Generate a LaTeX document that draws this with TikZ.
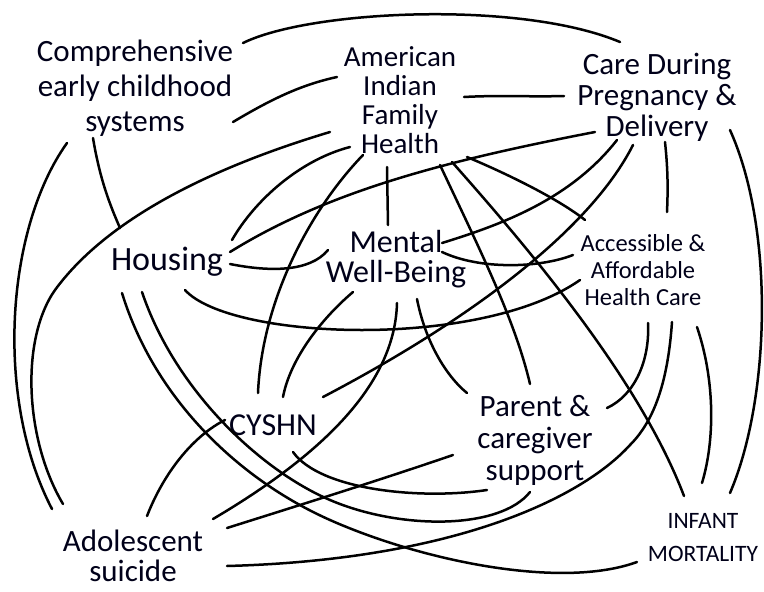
\documentclass[tikz,border=0pt]{standalone}
\usepackage{fontspec}
\setmainfont{Carlito}
\begin{document}
\begin{tikzpicture}[x=1pt,y=-1pt,
  link/.style={line width=2.5pt,line cap=round,black},
  lbl/.style={align=center,inner sep=0pt,text=black!90!blue},
]
\fill[white] (0,0) rectangle (764,592);
\useasboundingbox (0,0) rectangle (764,592);

% ---------- nodes ----------
\node[lbl,font=\fontsize{31}{35}\selectfont] (comp) at (135,88) {Comprehensive\\early childhood\\systems};
\node[lbl,font=\fontsize{29}{29}\selectfont] (aifh) at (400,100) {American\\Indian\\Family\\Health};
\node[lbl,font=\fontsize{31}{31}\selectfont] (care) at (657,97) {Care During\\Pregnancy \&\\Delivery};
\node[lbl,font=\fontsize{34}{34}\selectfont] (hous) at (167,262) {Housing};
\node[lbl,font=\fontsize{32}{30}\selectfont] (ment) at (396,259) {Mental\\Well-Being};
\node[lbl,font=\fontsize{24.5}{27}\selectfont] (acc) at (643,270) {Accessible \&\\Affordable\\Health Care};
\node[lbl,font=\fontsize{32}{32}\selectfont] (cysh) at (273,425) {CYSHN};
\node[lbl,font=\fontsize{31}{32}\selectfont] (par) at (535,440) {Parent \&\\caregiver\\support};
\node[lbl,font=\fontsize{31}{30}\selectfont] (adol) at (133,556) {Adolescent\\suicide};
\node[lbl,font=\fontsize{23.5}{33}\selectfont] (inf) at (703,538) {INFANT\\MORTALITY};

% ---------- connector end points ----------
\coordinate (compA) at (243,43);   \coordinate (careA) at (620,42);
\coordinate (compB) at (233,122);  \coordinate (aifhB) at (337,77);
\coordinate (compC) at (93,138);   \coordinate (housC) at (120,228);
\coordinate (compD) at (67,143);   \coordinate (adolD) at (52,509);
\coordinate (aifhE) at (330,132);  \coordinate (adolE) at (63,504);
\coordinate (aifhF) at (464,97);   \coordinate (careF) at (564,96);
\coordinate (aifhG) at (350,147);  \coordinate (housG) at (232,240);
\coordinate (housH) at (230,252);  \coordinate (careH) at (595,132);
\coordinate (housI) at (230,264);  \coordinate (mentI) at (328,250);
\coordinate (housJ) at (185,290);  \coordinate (accJ) at (580,280);
\coordinate (housK) at (142,292);  \coordinate (parK) at (530,492);
\coordinate (housL) at (122,293);  \coordinate (infL) at (637,562);
\coordinate (aifhM) at (387,167);  \coordinate (mentM) at (388,225);
\coordinate (aifhN) at (363,155);  \coordinate (cyshN) at (258,393);
\coordinate (aifhO) at (440,165);  \coordinate (parO) at (530,384);
\coordinate (aifhP) at (452,162);  \coordinate (infP) at (684,496);
\coordinate (aifhQ) at (467,157);  \coordinate (accQ) at (585,220);
\coordinate (careR) at (665,142);  \coordinate (accR) at (667,212);
\coordinate (careS) at (617,140);  \coordinate (mentS) at (442,243);
\coordinate (careT) at (633,145);  \coordinate (cyshT) at (323,397);
\coordinate (careU) at (730,130);  \coordinate (infU) at (730,493);
\coordinate (mentV) at (442,252);  \coordinate (accV) at (573,255);
\coordinate (mentW) at (353,292);  \coordinate (cyshW) at (283,397);
\coordinate (mentX) at (397,303);  \coordinate (adolX) at (213,519);
\coordinate (mentY) at (417,299);  \coordinate (parY) at (467,393);
\coordinate (accZ) at (648,323);   \coordinate (parZ) at (607,408);
\coordinate (accAA) at (672,322);  \coordinate (adolAA) at (227,566);
\coordinate (cyshBB) at (293,452); \coordinate (parBB) at (487,490);
\coordinate (parCC) at (453,455);  \coordinate (adolCC) at (227,528);
\coordinate (adolDD) at (147,516); \coordinate (cyshDD) at (225,420);
\coordinate (accEE) at (697,327);  \coordinate (infEE) at (702,483);

% ---------- connectors ----------
\draw[link] (compA) .. controls (310,10) and (520,0) .. (careA);
\draw[link] (compB) .. controls (270,100) and (300,85) .. (aifhB);
\draw[link] (compC) .. controls (100,180) and (110,205) .. (housC);
\draw[link] (compD) .. controls (5,230) and (-5,400) .. (adolD);
\draw[link] (aifhE) .. controls (220,165) and (110,215) .. (55,290)
                     .. controls (20,340) and (25,440) .. (adolE);
\draw[link] (aifhF) .. controls (500,95) and (530,97) .. (careF);
\draw[link] (aifhG) .. controls (300,160) and (255,200) .. (housG);
\draw[link] (housH) .. controls (330,190) and (450,160) .. (careH);
\draw[link] (housI) .. controls (270,272) and (310,272) .. (mentI);
\draw[link] (housJ) .. controls (230,340) and (480,350) .. (accJ);
\draw[link] (housK) .. controls (175,390) and (260,470) .. (330,500)
                     .. controls (400,530) and (500,530) .. (parK);
\draw[link] (housL) .. controls (155,400) and (240,480) .. (330,520)
                     .. controls (420,560) and (560,590) .. (infL);
\draw[link] (aifhM) -- (mentM);
\draw[link] (aifhN) .. controls (310,210) and (262,300) .. (cyshN);
\draw[link] (aifhO) .. controls (480,250) and (515,320) .. (parO);
\draw[link] (aifhP) .. controls (530,250) and (640,380) .. (infP);
\draw[link] (aifhQ) .. controls (510,175) and (560,200) .. (accQ);
\draw[link] (careR) .. controls (668,170) and (668,190) .. (accR);
\draw[link] (careS) .. controls (570,200) and (500,225) .. (mentS);
\draw[link] (careT) .. controls (590,230) and (470,320) .. (cyshT);
\draw[link] (careU) .. controls (775,230) and (770,400) .. (infU);
\draw[link] (mentV) .. controls (480,270) and (540,268) .. (accV);
\draw[link] (mentW) .. controls (320,320) and (290,360) .. (cyshW);
\draw[link] (mentX) .. controls (395,380) and (330,450) .. (adolX);
\draw[link] (mentY) .. controls (425,340) and (445,375) .. (parY);
\draw[link] (accZ) .. controls (650,360) and (635,395) .. (parZ);
\draw[link] (accAA) .. controls (668,380) and (655,420) .. (630,445)
                     .. controls (580,500) and (450,560) .. (adolAA);
\draw[link] (cyshBB) .. controls (320,490) and (420,500) .. (parBB);
\draw[link] (parCC) .. controls (380,480) and (300,505) .. (adolCC);
\draw[link] (adolDD) .. controls (165,470) and (195,435) .. (cyshDD);
\draw[link] (accEE) .. controls (715,380) and (715,440) .. (infEE);
\end{tikzpicture}
\end{document}
